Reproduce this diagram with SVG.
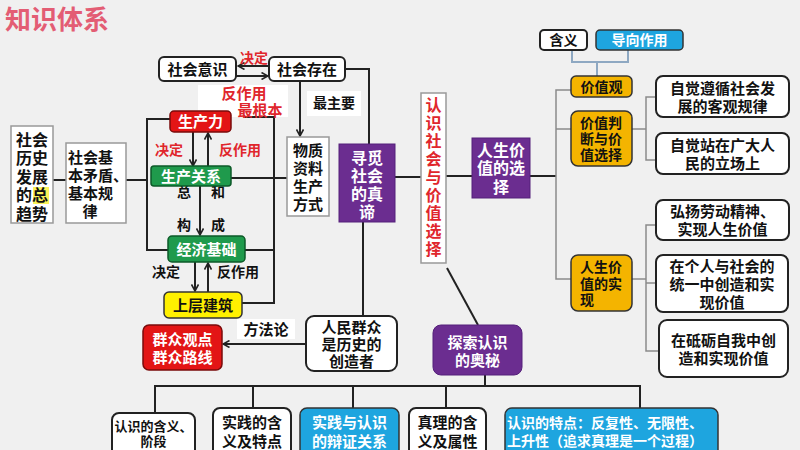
<svg xmlns="http://www.w3.org/2000/svg" width="800" height="450" viewBox="0 0 800 450">
<defs>
<marker id="ar" viewBox="0 0 8 8" refX="7" refY="4" markerWidth="8" markerHeight="8" markerUnits="userSpaceOnUse" orient="auto">
<path d="M0.5,0.5 L7,4 L0.5,7.5" fill="none" stroke="#222" stroke-width="1.6"/>
</marker>
<style>
text{font-family:"Liberation Sans","Noto Sans CJK SC",sans-serif;font-weight:bold;dominant-baseline:central}
.c{text-anchor:middle}
.k{fill:#111}
.w{fill:#fff}
.r{fill:#e0262c}
.f14{font-size:14px}
.f15{font-size:15px}
.f16{font-size:16px}
.wb{fill:#fff;stroke:#222;stroke-width:2}
.gb{fill:#fff;stroke:#999;stroke-width:1.5}
.pu{fill:#6b2d90;stroke:#55207a;stroke-width:1}
.rd{fill:#e31515;stroke:#7a0b0b;stroke-width:1.5}
.gn{fill:#1f9a4c;stroke:#0d5a28;stroke-width:1.5}
.yl{fill:#fff000;stroke:#333;stroke-width:1.5}
.or{fill:#f4b400;stroke:#333;stroke-width:1.5}
.bl{fill:#1ea5df;stroke:#333;stroke-width:1.5}
.ln{fill:none;stroke:#222;stroke-width:2}
.lg{fill:none;stroke:#8a8a8a;stroke-width:1.5}
.lb{fill:none;stroke:#8ea8c2;stroke-width:2}
.bg{fill:#fff}
</style>
</defs>
<rect width="800" height="450" fill="#f0f0f0"/>
<text x="5" y="20" style="font-size:26px;fill:#e35d74">知识体系</text>

<!-- label backgrounds -->
<rect class="bg" x="198" y="85" width="90" height="32"/>
<rect class="bg" x="307" y="91" width="54" height="25"/>
<rect class="bg" x="237" y="319" width="58" height="20"/>

<g id="connectors">
<line class="ln" x1="269" y1="66" x2="238" y2="66" marker-end="url(#ar)"/>
<line class="ln" x1="236" y1="76" x2="268" y2="76" marker-end="url(#ar)"/>
<line class="ln" x1="300" y1="81" x2="300" y2="136" marker-end="url(#ar)"/>
<path class="ln" d="M345,69 H369 V144"/>
<path class="ln" d="M53,180 H66"/>
<path class="ln" d="M126,180 H147"/>
<path class="ln" d="M170,119 H147 V250 H168"/>
<path class="ln" d="M244,117 H274 V303 H242"/>
<path class="ln" d="M231,178 H287"/>
<path class="ln" d="M245,250 H274"/>
<line class="ln" x1="193" y1="132" x2="193" y2="166" marker-end="url(#ar)"/>
<line class="ln" x1="208" y1="166" x2="208" y2="133" marker-end="url(#ar)"/>
<line class="ln" x1="200" y1="186" x2="200" y2="235" marker-end="url(#ar)"/>
<line class="ln" x1="195" y1="262" x2="195" y2="291" marker-end="url(#ar)"/>
<line class="ln" x1="208" y1="292" x2="208" y2="263" marker-end="url(#ar)"/>
<path class="ln" d="M363,222 V316"/>
<line class="ln" x1="306" y1="344" x2="223" y2="344" marker-end="url(#ar)"/>
<path class="ln" d="M395,177 H421"/>
<path class="ln" d="M446,176 H472"/>
<path class="ln" d="M447,268 L478,325"/>
<path class="ln" d="M530,176 H556"/>
<path class="lg" d="M571,90 H556 V279 H571 M556,129 H571"/>
<path class="lb" d="M572,50 V62 H628 V50 M597,62 V76"/>
<path class="lg" d="M632,129 H646 M656,97 H646 V160 H656"/>
<path class="lg" d="M632,279 H646 M656,225 H646 V351 H659 M646,283 H656"/>
<path class="ln" d="M485,375 V386 M155,413 V386 H640 V408 M253,386 V408 M353,386 V408 M446,386 V408"/>
</g>

<g id="title-labels">
<text class="c r f14" x="254" y="58">决定</text>
<text class="c r f15" x="244" y="93">反作用</text>
<text class="c r f15" x="260" y="110">最根本</text>
<text class="c k f14" x="334" y="103">最主要</text>
<text class="c r f14" x="169" y="150">决定</text>
<text class="c r f14" x="240" y="150">反作用</text>
<text class="c k f14" x="184" y="192">总</text>
<text class="c k f14" x="218" y="192">和</text>
<text class="c k f14" x="184" y="225">构</text>
<text class="c k f14" x="218" y="225">成</text>
<text class="c k f14" x="166" y="272">决定</text>
<text class="c k f14" x="238" y="272">反作用</text>
<text class="c k f15" x="266" y="329">方法论</text>
</g>

<g id="n-shyishi"><rect class="wb" x="159" y="57" width="77" height="24" rx="5"/><text class="c k f15" x="197.5" y="69">社会意识</text></g>
<g id="n-shcunzai"><rect class="wb" x="269" y="57" width="76" height="24" rx="5"/><text class="c k f15" x="307" y="69">社会存在</text></g>
<g id="n-wuzhi"><rect class="gb" x="287" y="137" width="42" height="79"/>
<text class="c k f15" x="308" y="150">物质</text><text class="c k f15" x="308" y="168">资料</text><text class="c k f15" x="308" y="186">生产</text><text class="c k f15" x="308" y="204">方式</text></g>
<g id="n-qushi"><rect class="gb" x="11" y="126" width="42" height="97"/>
<rect x="33" y="187" width="16" height="17" fill="#fbf35a"/>
<text class="c k f16" x="32" y="140">社会</text><text class="c k f16" x="32" y="158.5">历史</text><text class="c k f16" x="32" y="177">发展</text><text class="c k f16" x="32" y="195.5">的总</text><text class="c k f16" x="32" y="214">趋势</text></g>
<g id="n-maodun"><rect class="gb" x="66" y="143" width="60" height="80"/>
<text class="k f15" x="68" y="157">社会基</text><text class="k f15" x="68" y="175">本矛盾、</text><text class="k f15" x="68" y="193">基本规</text><text class="c k f15" x="90" y="211">律</text></g>
<g id="n-shengchanli"><rect class="rd" x="170" y="111" width="61" height="21" rx="4"/><text class="c w f15" x="200.5" y="121.5">生产力</text></g>
<g id="n-guanxi"><rect class="gn" x="151" y="166" width="80" height="20" rx="3"/><text class="c w f15" x="191" y="176">生产关系</text></g>
<g id="n-jichu"><rect class="gn" x="168" y="236" width="77" height="26" rx="4"/><text class="c w f15" x="206.5" y="249">经济基础</text></g>
<g id="n-shangceng"><rect class="yl" x="164" y="292" width="78" height="26" rx="5"/><text class="c k f15" x="203" y="305">上层建筑</text></g>
<g id="n-xunmi"><rect class="pu" x="339" y="144" width="56" height="78"/>
<text class="c w f16" x="367" y="158">寻觅</text><text class="c w f16" x="367" y="176">社会</text><text class="c w f16" x="367" y="194">的真</text><text class="c w f16" x="367" y="212">谛</text></g>
<g id="n-renmin"><rect class="wb" x="306" y="316" width="91" height="55" rx="8"/>
<text class="c k f15" x="351.5" y="327">人民群众</text><text class="c k f15" x="351.5" y="344">是历史的</text><text class="c k f15" x="351.5" y="361">创造者</text></g>
<g id="n-qunzhong"><rect class="rd" x="143" y="325" width="79" height="45" rx="6"/>
<text class="c w f15" x="182.5" y="339">群众观点</text><text class="c w f15" x="182.5" y="357">群众路线</text></g>
<g id="n-renshi"><rect class="gb" x="421" y="93" width="25" height="170"/>
<text class="c r f16" x="433.5" y="105">认</text><text class="c r f16" x="433.5" y="123">识</text><text class="c r f16" x="433.5" y="141">社</text><text class="c r f16" x="433.5" y="159">会</text><text class="c r f16" x="433.5" y="177">与</text><text class="c r f16" x="433.5" y="195">价</text><text class="c r f16" x="433.5" y="213">值</text><text class="c r f16" x="433.5" y="231">选</text><text class="c r f16" x="433.5" y="249">择</text></g>
<g id="n-rensheng"><rect class="pu" x="472" y="138" width="58" height="60"/>
<text class="c w f16" x="501" y="150">人生价</text><text class="c w f16" x="501" y="168.5">值的选</text><text class="c w f16" x="501" y="187">择</text></g>
<g id="n-tansuo"><rect class="pu" x="433" y="325" width="89" height="50" rx="8"/>
<text class="c w f15" x="477.5" y="342">探索认识</text><text class="c w f15" x="477.5" y="360">的奥秘</text></g>
<g id="n-hanyi"><rect class="wb" x="540" y="30" width="47" height="20" rx="4"/><text class="c k f14" x="563.5" y="40">含义</text></g>
<g id="n-daoxiang"><rect class="bl" x="596" y="30" width="87" height="20" rx="4"/><text class="c w f14" x="639.5" y="40">导向作用</text></g>
<g id="n-jiazhiguan"><rect class="or" x="571" y="76" width="61" height="21" rx="5"/><text class="c k f14" x="601.5" y="86.5">价值观</text></g>
<g id="n-panduan"><rect class="or" x="571" y="111" width="61" height="55" rx="7"/>
<text class="k f14" x="580" y="123">价值判</text><text class="k f14" x="580" y="139">断与价</text><text class="k f14" x="580" y="155">值选择</text></g>
<g id="n-shixian"><rect class="or" x="571" y="255" width="61" height="56" rx="7"/>
<text class="k f14" x="580" y="267">人生价</text><text class="k f14" x="580" y="283.5">值的实</text><text class="k f14" x="580" y="300">现</text></g>
<g id="n-r1"><rect class="wb" x="656" y="76" width="133" height="41" rx="7"/>
<text class="c k f15" x="722.5" y="88">自觉遵循社会发</text><text class="c k f15" x="722.5" y="106">展的客观规律</text></g>
<g id="n-r2"><rect class="wb" x="656" y="133" width="133" height="41" rx="7"/>
<text class="c k f15" x="722.5" y="145">自觉站在广大人</text><text class="c k f15" x="722.5" y="163">民的立场上</text></g>
<g id="n-r3"><rect class="wb" x="656" y="200" width="133" height="40" rx="7"/>
<text class="c k f15" x="722.5" y="211">弘扬劳动精神、</text><text class="c k f15" x="722.5" y="229">实现人生价值</text></g>
<g id="n-r4"><rect class="wb" x="656" y="255" width="132" height="57" rx="7"/>
<text class="c k f15" x="722" y="266">在个人与社会的</text><text class="c k f15" x="722" y="284">统一中创造和实</text><text class="c k f15" x="722" y="302">现价值</text></g>
<g id="n-r5"><rect class="wb" x="659" y="320" width="129" height="57" rx="8"/>
<text class="c k f15" x="723.5" y="340">在砥砺自我中创</text><text class="c k f15" x="723.5" y="358">造和实现价值</text></g>
<g id="n-b1"><rect class="wb" x="112" y="413" width="83" height="45" rx="7"/>
<text class="c k" style="font-size:13px" x="153.5" y="426">认识的含义、</text><text class="c k" style="font-size:13px" x="153.5" y="441">阶段</text></g>
<g id="n-b2"><rect class="wb" x="213" y="408" width="78" height="50" rx="7"/>
<text class="c k f15" x="252" y="422">实践的含</text><text class="c k f15" x="252" y="441">义及特点</text></g>
<g id="n-b3"><rect class="bl" x="300" y="408" width="99" height="50" rx="7"/>
<text class="c w f15" x="349.5" y="422">实践与认识</text><text class="c w f15" x="349.5" y="441">的辩证关系</text></g>
<g id="n-b4"><rect class="wb" x="409" y="408" width="77" height="50" rx="7"/>
<text class="c k f15" x="447.5" y="422">真理的含</text><text class="c k f15" x="447.5" y="441">义及属性</text></g>
<g id="n-b5"><rect class="bl" x="505" y="408" width="213" height="50" rx="7"/>
<text class="w f14" x="507" y="423">认识的特点：反复性、无限性、</text><text class="w f14" x="507" y="441">上升性（追求真理是一个过程）</text></g>
</svg>
